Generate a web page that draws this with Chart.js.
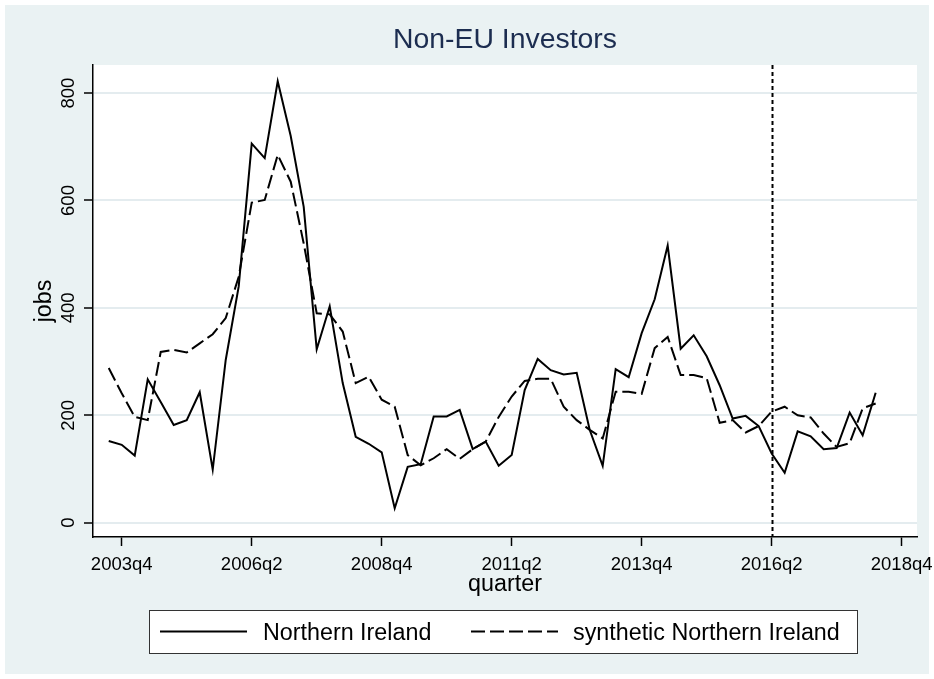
<!DOCTYPE html>
<html>
<head>
<meta charset="utf-8">
<title>Non-EU Investors</title>
<script src="https://cdn.jsdelivr.net/npm/chart.js@4.4.1/dist/chart.umd.min.js"></script>
<style>
  html, body { margin: 0; padding: 0; background: #fff; }
  canvas { display: block; }
</style>
</head>
<body>
<canvas id="jobsChart" width="934" height="679"></canvas>
<script>
// jobs per quarter, 2003q3 .. 2018q2
const northernIreland = [
  152, 145, 125, 267, 225, 182, 191, 243, 99, 303,
  440, 706, 679, 822, 720, 588, 323, 403, 260, 160,
  147, 131, 27, 104, 109, 198, 198, 210, 137, 151,
  106, 126, 247, 305, 284, 276, 279, 173, 106, 286,
  271, 353, 416, 516, 324, 349, 310, 256, 194, 199,
  180, 129, 93, 170, 161, 137, 139, 205, 163, 242
];
const syntheticNI = [
  288, 241, 197, 191, 318, 322, 317, 334, 351, 381,
  458, 596, 601, 685, 635, 520, 390, 388, 356, 260,
  272, 229, 216, 126, 107, 120, 137, 119, 137, 151,
  197, 235, 264, 268, 268, 216, 191, 173, 157, 244,
  244, 240, 325, 346, 275, 275, 269, 186, 191, 168,
  180, 207, 216, 200, 196, 166, 141, 148, 213, 222
];
const tickLabels = ['2003q4', '2006q2', '2008q4', '2011q2', '2013q4', '2016q2', '2018q4'];
const yTicks = [0, 200, 400, 600, 800];
const treatmentQuarter = '2016q2';

// quarter labels starting at 2003q3
const quarters = [];
for (let i = 0; i < northernIreland.length; i++) {
  const n = 2003 * 4 + 2 + i;
  quarters.push(Math.floor(n / 4) + 'q' + (n % 4 + 1));
}

// quarters counted from 2003q4
function xOf(label) {
  const [y, q] = label.split('q').map(Number);
  return y * 4 + q - 1 - (2003 * 4 + 3);
}

const FONT = "'Liberation Sans', Arial, Helvetica, sans-serif";
const BG = '#eaf2f3';

const bgPlugin = {
  id: 'bg',
  beforeDraw(chart) {
    const {ctx, width, height, chartArea} = chart;
    ctx.save();
    ctx.fillStyle = '#fff';
    ctx.fillRect(0, 0, width, height);
    ctx.fillStyle = BG;
    ctx.fillRect(5, 5, width - 10, height - 10);
    ctx.fillStyle = '#fff';
    ctx.fillRect(chartArea.left, chartArea.top, chartArea.right - chartArea.left, chartArea.bottom - chartArea.top);
    ctx.restore();
  }
};

const markerPlugin = {
  id: 'treatment',
  afterDatasetsDraw(chart) {
    const {ctx, chartArea, scales} = chart;
    const x = Math.round(scales.x.getPixelForValue(xOf(treatmentQuarter))) + 0.5;
    ctx.save();
    ctx.strokeStyle = '#000';
    ctx.lineWidth = 2;
    ctx.setLineDash([4, 3]);
    ctx.beginPath();
    ctx.moveTo(x, chartArea.top);
    ctx.lineTo(x, chartArea.bottom);
    ctx.stroke();
    ctx.restore();
  }
};

const textPlugin = {
  id: 'texts',
  afterDraw(chart) {
    const {ctx, chartArea} = chart;
    const cx = (chartArea.left + chartArea.right) / 2;
    ctx.save();
    // title
    ctx.fillStyle = '#1c2d50';
    ctx.font = '28.4px ' + FONT;
    ctx.textAlign = 'center';
    ctx.textBaseline = 'alphabetic';
    ctx.fillText('Non-EU Investors', cx, 48);

    // legend box
    ctx.fillStyle = '#fff';
    ctx.fillRect(149.5, 610.5, 708, 43);
    ctx.strokeStyle = '#333';
    ctx.lineWidth = 1;
    ctx.strokeRect(149.5, 610.5, 708, 43);

    const items = [
      {ds: chart.data.datasets[0], x0: 160, x1: 247, tx: 263},
      {ds: chart.data.datasets[1], x0: 471, x1: 558, tx: 573}
    ];
    ctx.font = '23.3px ' + FONT;
    ctx.textAlign = 'left';
    items.forEach(it => {
      ctx.strokeStyle = it.ds.borderColor;
      ctx.lineWidth = it.ds.borderWidth;
      ctx.setLineDash(it.ds.borderDash || []);
      ctx.beginPath();
      ctx.moveTo(it.x0, 631.5);
      ctx.lineTo(it.x1, 631.5);
      ctx.stroke();
      ctx.fillStyle = '#000';
      ctx.fillText(it.ds.label, it.tx, 640);
    });
    ctx.restore();
  }
};

new Chart(document.getElementById('jobsChart'), {
  type: 'line',
  data: {
    datasets: [
      {
        label: 'Northern Ireland',
        data: quarters.map((q, i) => ({x: xOf(q), y: northernIreland[i]})),
        borderColor: '#000',
        borderWidth: 2,
        borderJoinStyle: 'miter',
        pointRadius: 0,
        tension: 0
      },
      {
        label: 'synthetic Northern Ireland',
        data: quarters.map((q, i) => ({x: xOf(q), y: syntheticNI[i]})),
        borderColor: '#000',
        borderWidth: 2,
        borderDash: [14, 5],
        borderJoinStyle: 'miter',
        pointRadius: 0,
        tension: 0
      }
    ]
  },
  options: {
    responsive: false,
    animation: false,
    devicePixelRatio: 1,
    layout: { padding: { top: 65, right: 17, bottom: 78, left: 0 } },
    plugins: {
      legend: { display: false },
      title: { display: false },
      tooltip: { enabled: false }
    },
    scales: {
      x: {
        type: 'linear',
        min: -2.21,
        max: 61.18,
        afterBuildTicks: axis => { axis.ticks = tickLabels.map(l => ({value: xOf(l)})); },
        afterFit: axis => { axis.height = 64; axis.paddingLeft = 0; axis.paddingRight = 0; },
        ticks: {
          callback: v => tickLabels.find(l => xOf(l) === v) || '',
          color: '#000',
          font: { family: FONT, size: 18.5 },
          padding: 8,
          maxRotation: 0,
          autoSkip: false
        },
        grid: { drawOnChartArea: false, tickLength: 9, tickColor: '#000', tickWidth: 1.5 },
        border: { color: '#000', width: 1.5 },
        title: {
          display: true,
          text: 'quarter',
          color: '#000',
          font: { family: FONT, size: 23.3 },
          padding: { top: 0, bottom: 2 }
        }
      },
      y: {
        min: -26.6,
        max: 852.3,
        afterBuildTicks: axis => { axis.ticks = yTicks.map(v => ({value: v})); },
        afterFit: axis => { axis.width = 93; axis.paddingTop = 0; axis.paddingBottom = 0; },
        ticks: {
          color: '#000',
          font: { family: FONT, size: 18.5 },
          minRotation: 90,
          maxRotation: 90,
          crossAlign: 'center',
          padding: 0
        },
        grid: { color: '#e4ecef', lineWidth: 2, tickLength: 9, tickColor: '#000', tickWidth: 1.5 },
        border: { color: '#000', width: 1.5 },
        title: {
          display: true,
          text: 'jobs',
          color: '#000',
          font: { family: FONT, size: 23.3 },
          padding: { top: 31, bottom: 0 }
        }
      }
    }
  },
  plugins: [bgPlugin, markerPlugin, textPlugin]
});
</script>
</body>
</html>
